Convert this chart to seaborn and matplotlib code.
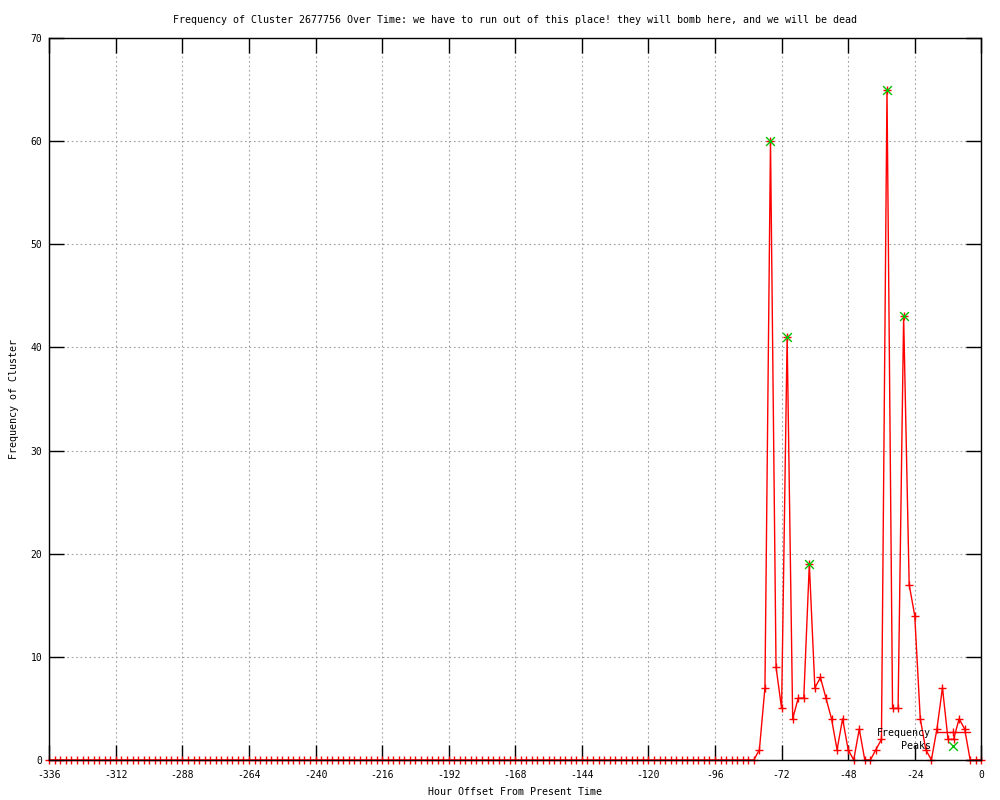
import numpy as np
import pandas as pd
import matplotlib
matplotlib.use('Agg')
import matplotlib.pyplot as plt
import seaborn as sns

# hourly offsets, one sample every 2 hours over two weeks
hours = np.arange(-336, 1, 2)
freq = [
    0, 0, 0, 0, 0, 0, 0, 0, 0, 0, 0, 0,   # -336 .. -314
    0, 0, 0, 0, 0, 0, 0, 0, 0, 0, 0, 0,   # -312 .. -290
    0, 0, 0, 0, 0, 0, 0, 0, 0, 0, 0, 0,   # -288 .. -266
    0, 0, 0, 0, 0, 0, 0, 0, 0, 0, 0, 0,   # -264 .. -242
    0, 0, 0, 0, 0, 0, 0, 0, 0, 0, 0, 0,   # -240 .. -218
    0, 0, 0, 0, 0, 0, 0, 0, 0, 0, 0, 0,   # -216 .. -194
    0, 0, 0, 0, 0, 0, 0, 0, 0, 0, 0, 0,   # -192 .. -170
    0, 0, 0, 0, 0, 0, 0, 0, 0, 0, 0, 0,   # -168 .. -146
    0, 0, 0, 0, 0, 0, 0, 0, 0, 0, 0, 0,   # -144 .. -122
    0, 0, 0, 0, 0, 0, 0, 0, 0, 0, 0, 0,   # -120 .. -98
    0, 0, 0, 0, 0, 0, 0,                  # -96 .. -84
    0, 1, 7, 60, 9, 5, 41, 4, 6, 6, 19, 7,   # -82 .. -60
    8, 6, 4, 1, 4, 1, 0, 3, 0, 0, 1, 2,      # -58 .. -36
    65, 5, 5, 43, 17, 14, 4, 1, 0, 3, 7, 2,  # -34 .. -12
    2, 4, 3, 0, 0, 0,                        # -10 .. 0
]
peak_hours = [-76, -70, -62, -34, -28]
peak_vals = [60, 41, 19, 65, 43]

df = pd.DataFrame({'hour': hours, 'freq': freq})

sns.set_style("ticks")
plt.rcParams['font.family'] = ['DejaVu Sans Mono']
plt.rcParams['axes.unicode_minus'] = False
plt.rcParams['text.color'] = 'black'
plt.rcParams['axes.labelcolor'] = 'black'

fig = plt.figure(figsize=(10, 8), dpi=100)
ax = fig.add_axes([0.0493, 0.05, 0.932, 0.9025])

sns.lineplot(data=df, x='hour', y='freq', color='#ff0000', lw=1, marker='+',
             markersize=6, markeredgewidth=1, markeredgecolor='#ff0000',
             label='Frequency', ax=ax, zorder=3, clip_on=False)
sns.scatterplot(x=peak_hours, y=peak_vals, marker='x', color='#00c000', s=40,
                linewidth=1, label='Peaks', ax=ax, zorder=4)

ax.set_xlim(-336, 0)
ax.set_ylim(0, 70)
ax.set_xticks(np.arange(-336, 1, 24))
ax.set_yticks(np.arange(0, 71, 10))
ax.grid(True, color='#a0a0a0', linestyle=(0, (1.5, 2.5)), lw=0.8)
ax.tick_params(direction='in', length=11, width=1, top=True, right=True,
               labelsize=7, colors='black')
ax.tick_params(axis='x', pad=7)
ax.tick_params(axis='y', pad=5)
for s in ax.spines.values():
    s.set_color('black')
    s.set_linewidth(1)
    s.set_zorder(5)

ax.set_title('Frequency of Cluster 2677756 Over Time: we have to run out of this place! '
             'they will bomb here, and we will be dead', fontsize=7.2, pad=11)
ax.set_xlabel('Hour Offset From Present Time', fontsize=7.2, labelpad=5)
ax.set_ylabel('Frequency of Cluster', fontsize=7.2, labelpad=8)

ax.legend(loc='lower right', bbox_to_anchor=(0.988, 0.0125), frameon=False,
          markerfirst=False, fontsize=7.2, handlelength=3.4, handletextpad=0.5,
          labelspacing=0.3, borderpad=0, borderaxespad=0, numpoints=1,
          scatterpoints=1)

fig.savefig('out.png', dpi=100)
